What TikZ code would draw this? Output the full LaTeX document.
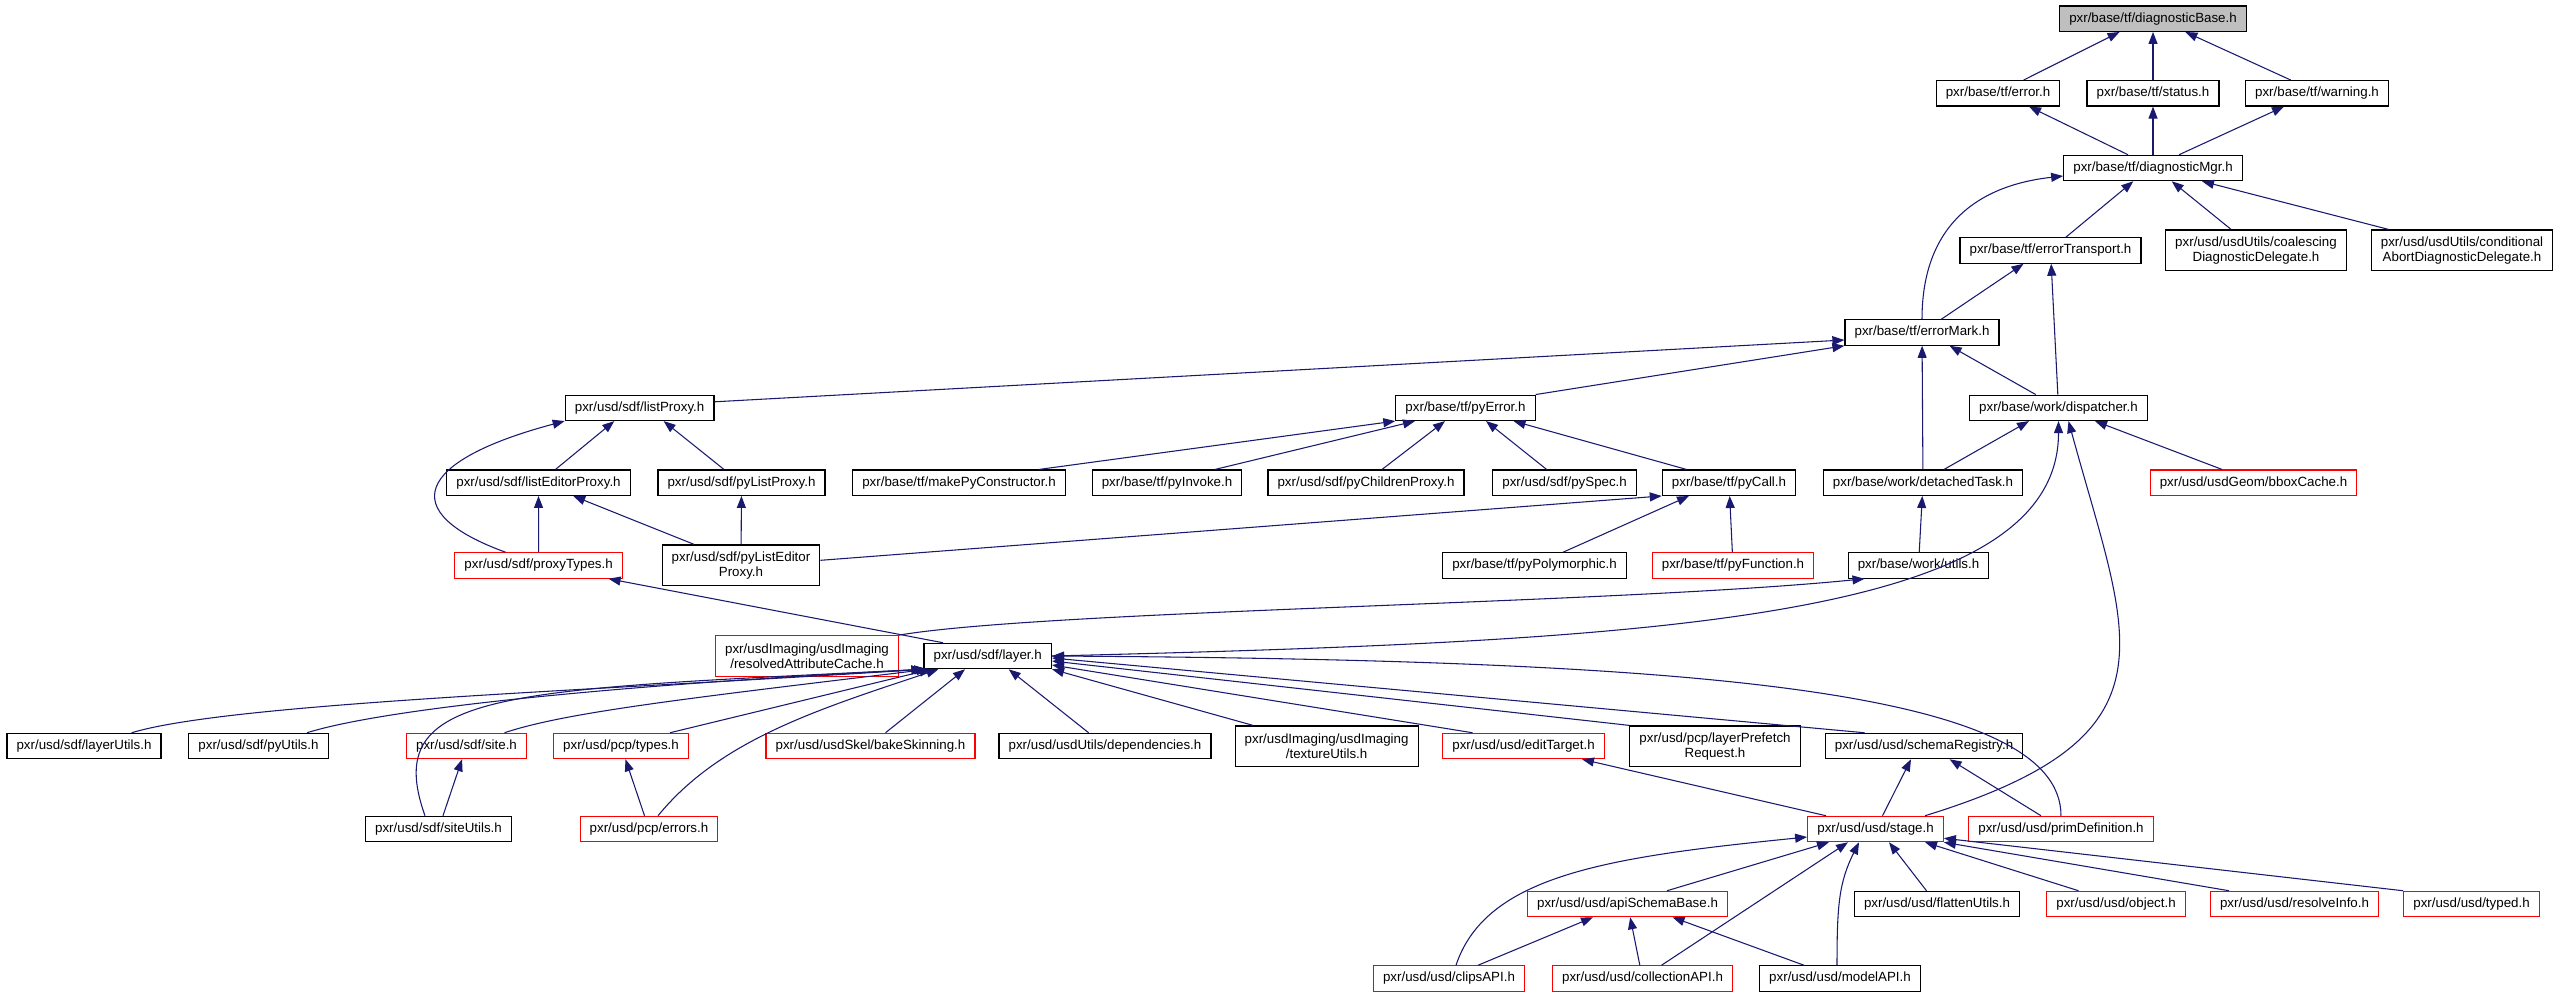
\documentclass[tikz,border=0pt]{standalone}
\usepackage{fontspec}
\setmainfont{Liberation Sans}
\usetikzlibrary{calc,arrows.meta}
\definecolor{edgeblue}{HTML}{191970}

\begin{document}
\begin{tikzpicture}[x=0.75pt,y=-0.75pt,>={Triangle[length=9pt,width=6.75pt]},
    hdr/.style={rectangle,draw=black,line width=0.9pt,inner xsep=7.2pt,inner ysep=0pt,minimum height=19pt,align=center,font=\fontsize{10}{11}\selectfont},
    hdrred/.style={hdr,draw=red},
    hdrtop/.style={hdr,fill=black!25},
    tall/.style={minimum height=30.5pt},
    incl/.style={->,draw=edgeblue,line width=0.8pt}]
  \useasboundingbox (0,0) rectangle (2560,997);
  % headers, row by row
  \node (base) at (2153,18.7) [hdrtop]{pxr/base/tf/diagnosticBase.h};
  \node (error) at (1998,93.3) [hdr]{pxr/base/tf/error.h};
  \node (status) at (2153,93.3) [hdr]{pxr/base/tf/status.h};
  \node (warning) at (2317,93.3) [hdr]{pxr/base/tf/warning.h};
  \node (mgr) at (2153,168) [hdr]{pxr/base/tf/diagnosticMgr.h};
  \node (transport) at (2050.5,250.5) [hdr]{pxr/base/tf/errorTransport.h};
  \node (coalescing) at (2256,250.3) [hdr,tall]{pxr/usd/usdUtils/coalescing\\DiagnosticDelegate.h};
  \node (conditional) at (2462,250.3) [hdr,tall]{pxr/usd/usdUtils/conditional\\AbortDiagnosticDelegate.h};
  \node (errmark) at (1922,332.5) [hdr]{pxr/base/tf/errorMark.h};
  \node (listProxy) at (639.6,407.8) [hdr]{pxr/usd/sdf/listProxy.h};
  \node (pyError) at (1465.5,407.8) [hdr]{pxr/base/tf/pyError.h};
  \node (dispatcher) at (2058.5,407.8) [hdr]{pxr/base/work/dispatcher.h};
  \node (listEditorProxy) at (538.5,482.7) [hdr]{pxr/usd/sdf/listEditorProxy.h};
  \node (pyListProxy) at (741.5,482.7) [hdr]{pxr/usd/sdf/pyListProxy.h};
  \node (makePyCtor) at (959,482.7) [hdr]{pxr/base/tf/makePyConstructor.h};
  \node (pyInvoke) at (1167,482.7) [hdr]{pxr/base/tf/pyInvoke.h};
  \node (pyChildrenProxy) at (1366,482.7) [hdr]{pxr/usd/sdf/pyChildrenProxy.h};
  \node (pySpec) at (1564.6,482.7) [hdr]{pxr/usd/sdf/pySpec.h};
  \node (pyCall) at (1729,482.7) [hdr]{pxr/base/tf/pyCall.h};
  \node (detachedTask) at (1923,482.7) [hdr]{pxr/base/work/detachedTask.h};
  \node (bboxCache) at (2253.5,482.7) [hdrred]{pxr/usd/usdGeom/bboxCache.h};
  \node (proxyTypes) at (538.6,565.5) [hdrred]{pxr/usd/sdf/proxyTypes.h};
  \node (pyListEditorProxy) at (741,565.3) [hdr,tall]{pxr/usd/sdf/pyListEditor\\Proxy.h};
  \node (pyPolymorphic) at (1534.5,565.5) [hdr]{pxr/base/tf/pyPolymorphic.h};
  \node (pyFunction) at (1733,565.5) [hdrred]{pxr/base/tf/pyFunction.h};
  \node (workUtils) at (1918.5,565.5) [hdr]{pxr/base/work/utils.h};
  \node (attrCache) at (807,656) [hdrred,tall]{pxr/usdImaging/usdImaging\\/resolvedAttributeCache.h};
  \node (layer) at (987.7,656) [hdr]{pxr/usd/sdf/layer.h};
  \node (layerUtils) at (84,746) [hdr]{pxr/usd/sdf/layerUtils.h};
  \node (pyUtils) at (258.5,746) [hdr]{pxr/usd/sdf/pyUtils.h};
  \node (site) at (466.5,746) [hdrred]{pxr/usd/sdf/site.h};
  \node (types) at (621,746) [hdrred]{pxr/usd/pcp/types.h};
  \node (bakeSkinning) at (870.5,746) [hdrred]{pxr/usd/usdSkel/bakeSkinning.h};
  \node (dependencies) at (1105,746) [hdr]{pxr/usd/usdUtils/dependencies.h};
  \node (textureUtils) at (1326.6,746.3) [hdr,tall]{pxr/usdImaging/usdImaging\\/textureUtils.h};
  \node (editTarget) at (1523.5,746) [hdrred]{pxr/usd/usd/editTarget.h};
  \node (layerPrefetch) at (1715,746.3) [hdr,tall]{pxr/usd/pcp/layerPrefetch\\Request.h};
  \node (schemaRegistry) at (1924,746) [hdr]{pxr/usd/usd/schemaRegistry.h};
  \node (siteUtils) at (438.5,829) [hdr]{pxr/usd/sdf/siteUtils.h};
  \node (errors) at (649,829) [hdrred]{pxr/usd/pcp/errors.h};
  \node (stage) at (1875.5,829) [hdrred]{pxr/usd/usd/stage.h};
  \node (primDef) at (2061,829) [hdrred]{pxr/usd/usd/primDefinition.h};
  \node (apiSchemaBase) at (1627.5,904) [hdrred]{pxr/usd/usd/apiSchemaBase.h};
  \node (flattenUtils) at (1937,904) [hdr]{pxr/usd/usd/flattenUtils.h};
  \node (object) at (2116,904) [hdrred]{pxr/usd/usd/object.h};
  \node (resolveInfo) at (2294.5,904) [hdrred]{pxr/usd/usd/resolveInfo.h};
  \node (typed) at (2471.5,904) [hdrred]{pxr/usd/usd/typed.h};
  \node (clipsAPI) at (1449,978.5) [hdrred]{pxr/usd/usd/clipsAPI.h};
  \node (collectionAPI) at (1642.5,978.5) [hdrred]{pxr/usd/usd/collectionAPI.h};
  \node (modelAPI) at (1840,978.5) [hdr]{pxr/usd/usd/modelAPI.h};
  % includes, arrow at the included header
  \draw[incl] ($(error.north)+(25.6,0)$) -- ($(base.south)+(-33.4,0)$);
  \draw[incl] (status) -- (base);
  \draw[incl] ($(warning.north)+(-26.3,0)$) -- ($(base.south)+(32.4,0)$);
  \draw[incl] ($(mgr.north)+(-25,0)$) -- ($(error.south)+(31,0)$);
  \draw[incl] (mgr) -- (status);
  \draw[incl] ($(mgr.north)+(26,0)$) -- ($(warning.south)+(-33,0)$);
  \draw[incl] ($(transport.north)+(15.3,0)$) -- ($(mgr.south)+(-19.7,0)$);
  \draw[incl] ($(coalescing.north)+(-25,0)$) -- ($(mgr.south)+(18.7,0)$);
  \draw[incl] ($(conditional.north)+(-73.6,0)$) -- ($(mgr.south)+(49,0)$);
  \draw[incl] (errmark.north) .. controls +(0,-90) and +(-90,10) .. ($(mgr.west)+(0,8)$);
  \draw[incl] ($(errmark.north)+(19.3,0)$) -- ($(transport.south)+(-27,0)$);
  \draw[incl] (dispatcher) -- (transport);
  \draw[incl] ($(listProxy.east)+(0,-6)$) -- ($(errmark.west)+(0,7.5)$);
  \draw[incl] (pyError.north east) -- (errmark.south west);
  \draw[incl] ($(dispatcher.north)+(-22.8,0)$) -- ($(errmark.south)+(27.6,0)$);
  \draw[incl] (detachedTask) -- (errmark);
  \draw[incl] ($(listEditorProxy.north)+(17,0)$) -- ($(listProxy.south)+(-25.3,0)$);
  \draw[incl] ($(pyListProxy.north)+(-17.5,0)$) -- ($(listProxy.south)+(24,0)$);
  \draw[incl] ($(proxyTypes.north)+(-33,0)$) .. controls +(-110,-40) and +(-150,40) .. (listProxy.south west);
  \draw[incl] ($(makePyCtor.north)+(80,0)$) -- (pyError.south west);
  \draw[incl] ($(pyInvoke.north)+(48,0)$) -- ($(pyError.south)+(-50.5,0)$);
  \draw[incl] ($(pyChildrenProxy.north)+(16,0)$) -- ($(pyError.south)+(-20.5,0)$);
  \draw[incl] ($(pySpec.north)+(-18,0)$) -- ($(pyError.south)+(20.5,0)$);
  \draw[incl] ($(pyCall.north)+(-42.5,0)$) -- ($(pyError.south)+(48,0)$);
  \draw[incl] ($(detachedTask.north)+(21,0)$) -- ($(dispatcher.south)+(-29.5,0)$);
  \draw[incl] ($(bboxCache.north)+(-31.5,0)$) -- ($(dispatcher.south)+(36.5,0)$);
  \draw[incl] (layer.east) .. controls +(600,-15) and +(0,200) .. (dispatcher.south);
  \draw[incl] ($(stage.north)+(49.5,0)$) .. controls +(260,-80) and +(60,220) .. ($(dispatcher.south)+(10,0)$);
  \draw[incl] (workUtils) -- (detachedTask);
  \draw[incl] (proxyTypes) -- (listEditorProxy);
  \draw[incl] ($(pyListEditorProxy.north)+(-47,0)$) -- ($(listEditorProxy.south)+(34.7,0)$);
  \draw[incl] (pyListEditorProxy) -- (pyListProxy);
  \draw[incl] ($(pyListEditorProxy.east)+(0,-5)$) -- (pyCall.south west);
  \draw[incl] ($(pyPolymorphic.north)+(28.5,0)$) -- ($(pyCall.south)+(-40,0)$);
  \draw[incl] (pyFunction) -- (pyCall);
  \draw[incl] (attrCache.north east) .. controls +(150,-25) and +(-250,25) .. ($(workUtils.south)+(-54,0)$);
  \draw[incl] ($(layer.north)+(-44.7,0)$) -- ($(proxyTypes.south)+(70,0)$);
  % what includes layer.h
  \draw[incl] ($(layerUtils.north)+(47.6,0)$) .. controls +(100,-30) and +(-322,21) .. (layer.south west);
  \draw[incl] ($(pyUtils.north)+(48.5,0)$) .. controls +(80,-25) and +(-300,15) .. ($(layer.south west)+(3,0)$);
  \draw[incl] ($(siteUtils.north)+(-13.5,0)$) .. controls +(-45,-126) and +(-422,21) .. (layer.south west);
  \draw[incl] ($(site.north)+(38,0)$) .. controls +(60,-20) and +(-250,30) .. ($(layer.south west)+(5,0)$);
  \draw[incl] ($(types.north)+(49,0)$) -- ($(layer.south west)+(8,0)$);
  \draw[incl] ($(errors.north)+(9,0)$) .. controls +(62,-76) and +(-120,40) .. ($(layer.south west)+(15,0)$);
  \draw[incl] ($(bakeSkinning.north)+(15,0)$) -- ($(layer.south)+(-22.7,0)$);
  \draw[incl] ($(dependencies.north)+(-16.4,0)$) -- ($(layer.south)+(21,0)$);
  \draw[incl] ($(textureUtils.north)+(-73.6,0)$) -- (layer.south east);
  \draw[incl] ($(editTarget.north)+(-51,0)$) -- ($(layer.east)+(0,9)$);
  \draw[incl] (layerPrefetch.north west) -- ($(layer.east)+(0,5)$);
  \draw[incl] ($(schemaRegistry.north)+(-59.5,0)$) -- ($(layer.east)+(0,2)$);
  \draw[incl] (primDef.north) .. controls +(0,-126) and +(646,4) .. (layer.east);
  \draw[incl] (siteUtils) -- (site);
  \draw[incl] (errors) -- (types);
  % what includes stage.h
  \draw[incl] ($(stage.north)+(-49.5,0)$) -- ($(editTarget.south)+(58.5,0)$);
  \draw[incl] ($(stage.north)+(7,0)$) -- ($(schemaRegistry.south)+(-13,0)$);
  \draw[incl] ($(primDef.north)+(-20,0)$) -- ($(schemaRegistry.south)+(25.6,0)$);
  \draw[incl] ($(clipsAPI.north)+(7,0)$) .. controls +(30,-90) and +(-200,20) .. ($(stage.west)+(0,8)$);
  \draw[incl] ($(apiSchemaBase.north)+(39.5,0)$) -- ($(stage.south)+(-46.5,0)$);
  \draw[incl] ($(collectionAPI.north)+(19,0)$) -- ($(stage.south)+(-27.5,0)$);
  \draw[incl] ($(modelAPI.north)+(-3,0)$) .. controls +(0,-60) and +(-20,40) .. ($(stage.south)+(-16.5,0)$);
  \draw[incl] ($(flattenUtils.north)+(-10.5,0)$) -- ($(stage.south)+(13.5,0)$);
  \draw[incl] ($(object.north)+(-37.5,0)$) -- ($(stage.south)+(49.5,0)$);
  \draw[incl] ($(resolveInfo.north)+(-65.5,0)$) -- (stage.south east);
  \draw[incl] (typed.north west) -- ($(stage.south east)+(0,-4)$);
  \draw[incl] ($(clipsAPI.north)+(29,0)$) -- ($(apiSchemaBase.south)+(-34.5,0)$);
  \draw[incl] (collectionAPI) -- (apiSchemaBase);
  \draw[incl] ($(modelAPI.north)+(-36,0)$) -- ($(apiSchemaBase.south)+(45,0)$);
\end{tikzpicture}
\end{document}
